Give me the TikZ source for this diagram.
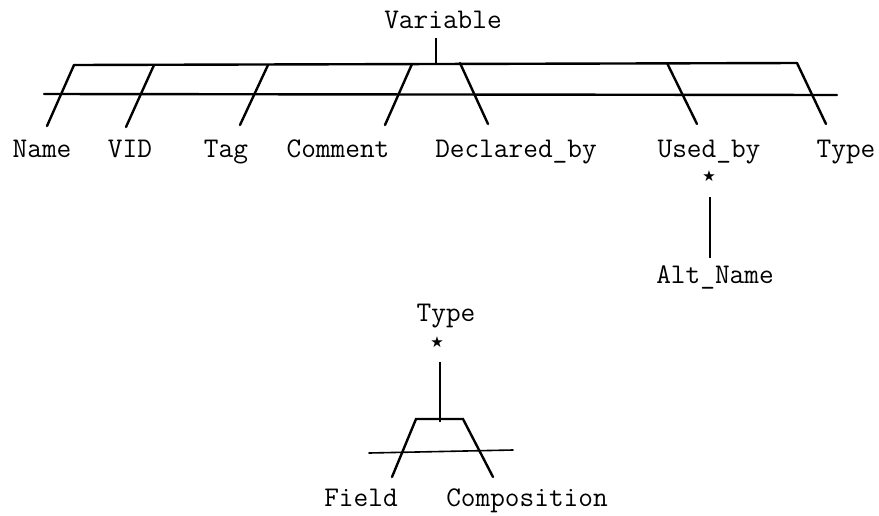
\documentclass[tikz,border=0pt]{standalone}
\usepackage{fontspec}
\newfontfamily\starfam{DejaVu Sans}
\begin{document}
\begin{tikzpicture}[x=1pt,y=-1pt,
  lbl/.style={font=\ttfamily\fontsize{28.5}{32}\selectfont, inner sep=0pt, anchor=base},
  starlbl/.style={font=\starfam\fontsize{15}{16}\selectfont, inner sep=0pt},
  thick line/.style={line width=2.4pt, line cap=round},
  thin line/.style={line width=1.2pt}]
\useasboundingbox (0,0) rectangle (879,515);
% labels
\node[lbl] (variable) at (443,28) {Variable};
\node[lbl] (name) at (42,157) {Name};
\node[lbl] (vid) at (130,157) {VID};
\node[lbl] (tag) at (226,157) {Tag};
\node[lbl] (comment) at (338,157) {Comment};
\node[lbl] (declared) at (516,157) {Declared\_by};
\node[lbl] (usedby) at (709,157) {Used\_by};
\node[lbl] (typeA) at (846,157) {Type};
\node[starlbl] (starA) at (709,176) {★};
\node[lbl] (altname) at (715,283) {Alt\_Name};
\node[lbl] (typeB) at (446,321) {Type};
\node[starlbl] (starB) at (437,342) {★};
\node[lbl] (field) at (361,506) {Field};
\node[lbl] (composition) at (527,506) {Composition};
% coordinates of the top structure
\coordinate (vtop) at (436,38);
\coordinate (vbot) at (436,65);
\coordinate (t1) at (74,65);   \coordinate (b1) at (47,126);
\coordinate (t2) at (154,65);  \coordinate (b2) at (126,127);
\coordinate (t3) at (268,65);  \coordinate (b3) at (240,125);
\coordinate (t4) at (412,64);  \coordinate (b4) at (385,125);
\coordinate (t5) at (460,63);  \coordinate (b5) at (488,124);
\coordinate (t6) at (667,63);  \coordinate (b6) at (697,124);
\coordinate (t7) at (797,63);  \coordinate (b7) at (826,124);
\coordinate (ml) at (44,94);   \coordinate (mr) at (837,95);
% top structure
\draw[thin line] (vtop) -- (vbot);
\draw[thick line] (t1) -- (t7);
\draw[thick line] (ml) -- (mr);
\foreach \i in {1,...,7} \draw[thick line] (t\i) -- (b\i);
% Used_by to Alt_Name
\coordinate (ua) at (710,197);
\coordinate (ub) at (710,258);
\draw[thin line] (ua) -- (ub);
% bottom structure
\coordinate (ta) at (440,362);
\coordinate (tb) at (440,422);
\coordinate (q1) at (416,419); \coordinate (q2) at (463,419);
\coordinate (p1) at (392,477); \coordinate (p2) at (493,477);
\coordinate (hl) at (369,453); \coordinate (hr) at (513,450);
\draw[thin line] (ta) -- (tb);
\draw[thick line] (p1) -- (q1) -- (q2) -- (p2);
\draw[thick line, line width=1.6pt] (hl) -- (hr);
\end{tikzpicture}
\end{document}
